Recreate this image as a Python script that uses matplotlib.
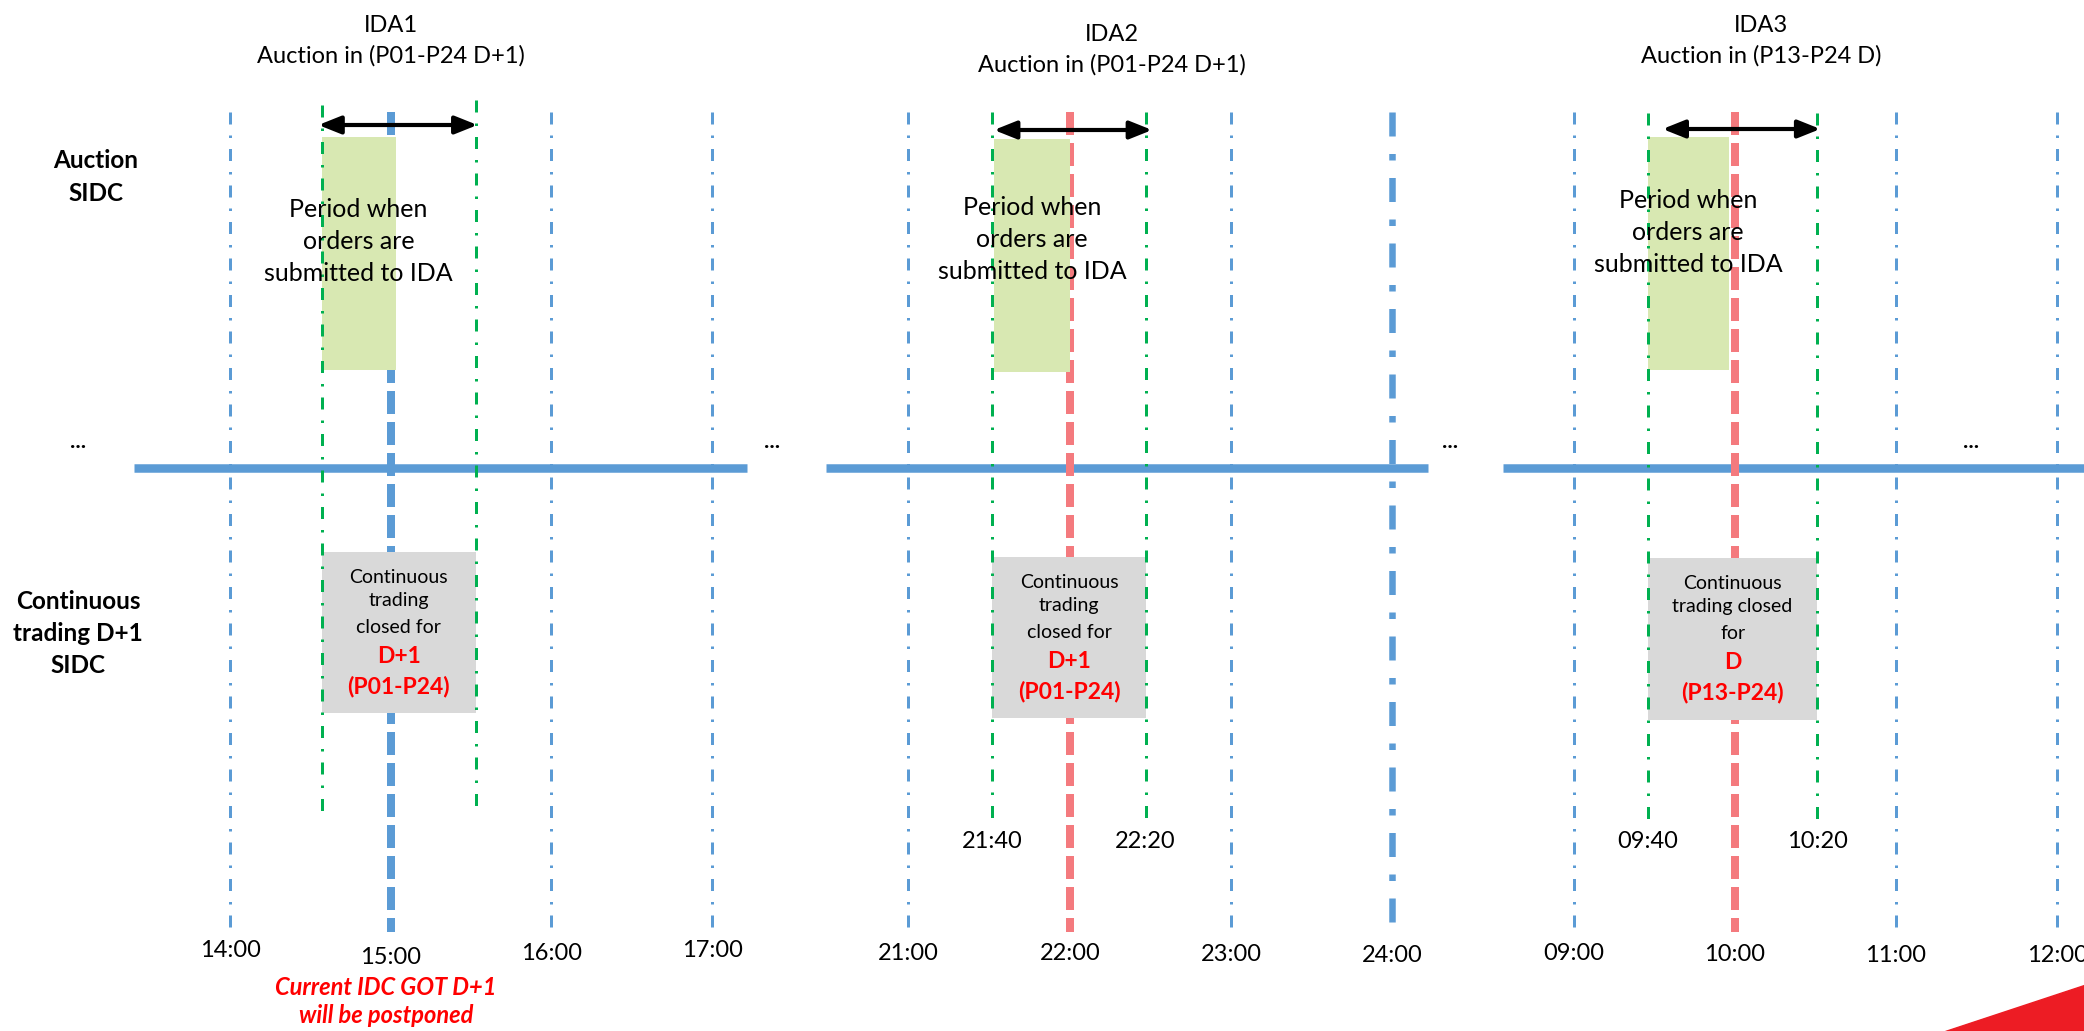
import matplotlib.pyplot as plt
from matplotlib.patches import Rectangle, Polygon
import matplotlib as mpl

mpl.rcParams['lines.scale_dashes'] = False
plt.rcParams['font.family'] = ['Lato', 'DejaVu Sans']

W, H, DPI = 2084, 1031, 100

###################################################
# DATA (times in hours)
###################################################
panel_names = ['IDA1', 'IDA2', 'IDA3']
panel_titles = ['Auction in (P01-P24 D+1)', 'Auction in (P01-P24 D+1)', 'Auction in (P13-P24 D)']
hour_ticks = [[14, 15, 16, 17], [21, 22, 23, 24], [9, 10, 11, 12]]
hour_labels = [['14:00', '15:00', '16:00', '17:00'],
               ['21:00', '22:00', '23:00', '24:00'],
               ['09:00', '10:00', '11:00', '12:00']]
auction_hour = [15, 22, 10]
gate_open = [14.57, 21.52, 9.46]        # drawn position of gate opening
gate_close = [15.53, 22.47, 10.51]      # drawn position of gate closure
gate_labels = [None, ['21:40', '22:20'], ['09:40', '10:20']]
order_window = [(14.57, 15.03), (21.53, 22.0), (9.46, 9.96)]
arrow_span = [(14.55, 15.54), (21.53, 22.51), (9.55, 10.53)]
timeline_span = [(13.40, 17.22), (20.49, 24.22), (8.56, 12.7)]
midnight_hour = [None, 24, None]
closed_text = [['Continuous', 'trading', 'closed for'],
               ['Continuous', 'trading', 'closed for'],
               ['Continuous', 'trading closed', 'for']]
closed_day = ['D+1', 'D+1', 'D']
closed_periods = ['(P01-P24)', '(P01-P24)', '(P13-P24)']

###################################################
# LAYOUT (pixels)
###################################################
px_first_tick = [230, 908.5, 1574]
px_per_hour = [160.7, 161.3, 161.0]
title_y = [32, 41, 32]
title_dx = [0.0, 0.26, 0.16]
arrow_y = [125, 130, 129]
green_top = [(105, 100), (112, 112), (113, 113)]
green_bot = [(817, 808), (820, 820), (822, 822)]
box_top = [137, 139, 137]
box_bot = [370, 372, 370]
period_y = [217, 215, 208]
gray_top = [552, 557, 558]
gray_bot = [713, 718, 720]
tick_y = [[957, 964, 960, 957], [960, 960, 961, 962], [960, 961, 962, 962]]

BLUE = '#5B9BD5'
RED_LINE = '#F47A7E'
GREEN = '#00B050'
GREEN_BOX = '#D8E8B2'
GRAY_BOX = '#D9D9D9'
RED_TXT = '#FF0000'

px2pt = 72.0 / DPI
thin_dashdot = (0, (12 * px2pt, 11 * px2pt, 2.5 * px2pt, 11 * px2pt))
thick_dash = (0, (23 * px2pt, 8 * px2pt))
thick_dashdot = (0, (24 * px2pt, 17.5 * px2pt, 6.5 * px2pt, 17.5 * px2pt))

fig = plt.figure(figsize=(W / DPI, H / DPI), dpi=DPI)
fig.patch.set_facecolor('white')

# background axes in pixel coordinates for the row labels and decorations
bg = fig.add_axes([0, 0, 1, 1])
bg.set_xlim(0, W)
bg.set_ylim(H, 0)
bg.axis('off')

bg.text(96, 168, 'Auction', ha='center', va='baseline', fontsize=17.5, fontweight='bold')
bg.text(96, 201, 'SIDC', ha='center', va='baseline', fontsize=17.5, fontweight='bold')
for txt, y in zip(['Continuous', 'trading D+1', 'SIDC'], [609, 641, 673]):
    bg.text(78, y, txt, ha='center', va='baseline', fontsize=17.5, fontweight='bold')
for x in [78, 772, 1450, 1971]:
    bg.text(x, 448, '...', ha='center', va='baseline', fontsize=16, fontweight='bold')

bg.add_patch(Polygon([(1945, H), (W, H), (W, 985)], closed=True, color='#ED1C24', zorder=1))

for i in range(3):
    t0, x0, pph = hour_ticks[i][0], px_first_tick[i], px_per_hour[i]
    ax = fig.add_axes([0, 0, 1, 1])
    ax.set_xlim(t0 - x0 / pph, t0 + (W - x0) / pph)
    ax.set_ylim(H, 0)
    ax.axis('off')
    ax.patch.set_alpha(0)

    # timeline
    ax.plot(timeline_span[i], [468, 468], color=BLUE, lw=8.5 * px2pt, solid_capstyle='butt', zorder=1)

    # hour lines
    for h, lab, ty in zip(hour_ticks[i], hour_labels[i], tick_y[i]):
        if h == auction_hour[i]:
            col = BLUE if i == 0 else RED_LINE
            ax.plot([h, h], [112, 932], color=col, lw=8 * px2pt, ls=thick_dash, zorder=2)
        elif h == midnight_hour[i]:
            ax.plot([h, h], [112, 930], color=BLUE, lw=6.5 * px2pt, ls=thick_dashdot, zorder=2)
        else:
            ax.plot([h, h], [112, 932], color=BLUE, lw=3 * px2pt, ls=thin_dashdot, zorder=2)
        ax.text(h, ty, lab, ha='center', va='baseline', fontsize=17, zorder=6)

    # order submission window
    w0, w1 = order_window[i]
    ax.add_patch(Rectangle((w0, box_top[i]), w1 - w0, box_bot[i] - box_top[i],
                           facecolor=GREEN_BOX, edgecolor='none', zorder=3))
    for k, txt in enumerate(['Period when', 'orders are', 'submitted to IDA']):
        ax.text((w0 + w1) / 2, period_y[i] + 32 * k, txt, ha='center', va='baseline',
                fontsize=18, zorder=6)

    # continuous trading closed box
    ax.add_patch(Rectangle((gate_open[i], gray_top[i]), gate_close[i] - gate_open[i],
                           gray_bot[i] - gray_top[i], facecolor=GRAY_BOX, edgecolor='none', zorder=3))
    cx = (gate_open[i] + gate_close[i]) / 2
    offs = [31, 54, 81, 111, 141]
    for k, txt in enumerate(closed_text[i]):
        ax.text(cx, gray_top[i] + offs[k], txt, ha='center', va='baseline', fontsize=14, zorder=6)
    ax.text(cx, gray_top[i] + offs[3], closed_day[i], ha='center', va='baseline',
            fontsize=16.5, fontweight='bold', color=RED_TXT, zorder=6)
    ax.text(cx, gray_top[i] + offs[4], closed_periods[i], ha='center', va='baseline',
            fontsize=16.5, fontweight='bold', color=RED_TXT, zorder=6)

    # gate lines
    for g, yt, yb in zip([gate_open[i], gate_close[i]], green_top[i], green_bot[i]):
        ax.plot([g, g], [yt, yb], color=GREEN, lw=3 * px2pt, ls=thin_dashdot, zorder=4)
    if gate_labels[i] is not None:
        for g, lab in zip([gate_open[i], gate_close[i]], gate_labels[i]):
            ax.text(g, 848, lab, ha='center', va='baseline', fontsize=17, zorder=6)

    # double arrow
    a0, a1 = arrow_span[i]
    ax.annotate('', xy=(a1, arrow_y[i]), xytext=(a0, arrow_y[i]),
                arrowprops=dict(arrowstyle='<|-|>,head_length=0.45,head_width=0.18',
                                color='black', lw=3, mutation_scale=30, shrinkA=0, shrinkB=0),
                zorder=5)

    # titles
    tx = auction_hour[i] + title_dx[i]
    ax.text(tx, title_y[i], panel_names[i], ha='center', va='baseline', fontsize=17)
    ax.text(tx, title_y[i] + 31, panel_titles[i], ha='center', va='baseline', fontsize=17)

    if i == 0:
        ax.text(auction_hour[i] - 0.03, 995, 'Current IDC GOT D+1', ha='center', va='baseline',
                fontsize=17, fontweight='bold', fontstyle='italic', color=RED_TXT)
        ax.text(auction_hour[i] - 0.03, 1023, 'will be postponed', ha='center', va='baseline',
                fontsize=17, fontweight='bold', fontstyle='italic', color=RED_TXT)

fig.savefig('out.png', dpi=DPI, facecolor='white')
